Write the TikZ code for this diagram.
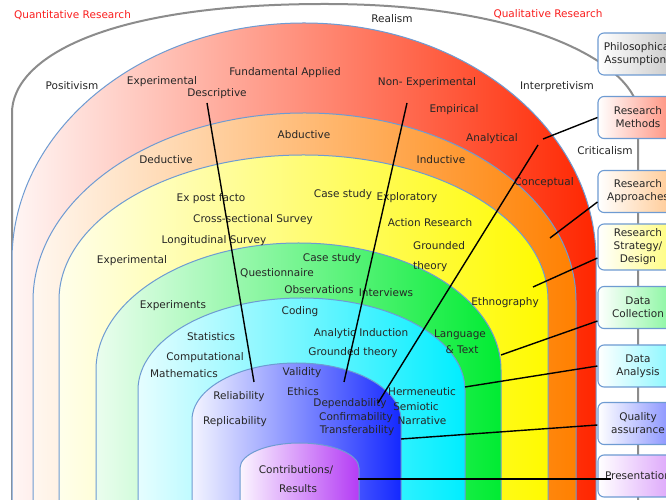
\documentclass[tikz,border=0pt]{standalone}
\usepackage{fontspec}
\setmainfont{DejaVu Sans}
\usetikzlibrary{positioning}

\definecolor{onionEdge}{RGB}{110,155,210}
\definecolor{titleRed}{RGB}{250,30,30}
\definecolor{redBand}{RGB}{255,38,0}
\definecolor{orangeBand}{RGB}{255,128,0}
\definecolor{yellowBand}{RGB}{255,250,0}
\definecolor{greenBand}{RGB}{0,236,50}
\definecolor{cyanBand}{RGB}{0,238,255}
\definecolor{blueBand}{RGB}{20,40,255}
\definecolor{purpleBand}{RGB}{180,60,245}

\tikzstyle{layer} = [draw=onionEdge, 
line width=1pt]
\tikzstyle{outer} = [draw=black!45, 
line width=2pt]
\tikzstyle{term} = [inner sep=0pt, 
text height=7.6pt, 
text depth=2pt,
font=\fontsize{10.5}{12}\selectfont, 
text=black!85]
\tikzstyle{title} = [inner sep=0pt, 
text height=7.6pt, 
text depth=2pt,
font=\fontsize{10.5}{12}\selectfont, 
text=titleRed]
\tikzstyle{stage} = [rectangle, rounded corners=6pt, 
minimum width=80pt, 
minimum height=42pt,
align=center, 
draw=onionEdge, line width=1.1pt,
font=\fontsize{10.5}{13}\selectfont, 
text=black!85]
\tikzstyle{link} = [line width=1.4pt, black]

\begin{document}
\begin{tikzpicture}[x=1pt, y=1pt, node distance=60pt]
\useasboundingbox (0,0) rectangle (666,500);
\clip (0,0) rectangle (666,500);
\fill [white] (0,0) rectangle (666,500);

% the onion
\draw [outer, fill=white] (12,-5) -- (12,387) .. controls (12,440) and (100,496) .. (325,496)
  .. controls (540,496) and (638,430) .. (638,387) -- (638,-5);
\path [layer, left color=redBand!4, middle color=redBand!38, right color=redBand]
  (12,-5) -- (12,240) arc[start angle=180, end angle=0, x radius=292, y radius=237] -- (596,-5) -- cycle;
\path [layer, left color=orangeBand!6, middle color=orangeBand!40, right color=orangeBand]
  (33,-5) -- (33,199) arc[start angle=180, end angle=0, x radius=271.5, y radius=188] -- (576,-5) -- cycle;
\path [layer, left color=yellowBand!8, middle color=yellowBand!45, right color=yellowBand]
  (59,-5) -- (59,200) arc[start angle=180, end angle=0, x radius=244.5, y radius=145] -- (548,-5) -- cycle;
\path [layer, left color=greenBand!8, middle color=greenBand!45, right color=greenBand]
  (96,-5) -- (96,130) arc[start angle=180, end angle=0, x radius=202.5, y radius=127] -- (501,-5) -- cycle;
\path [layer, left color=cyanBand!10, middle color=cyanBand!50, right color=cyanBand]
  (138,-5) -- (138,110) arc[start angle=180, end angle=0, x radius=163.5, y radius=92] -- (465,-5) -- cycle;
\path [layer, left color=blueBand!5, middle color=blueBand!40, right color=blueBand]
  (192,-5) -- (192,80) arc[start angle=180, end angle=0, x radius=104.5, y radius=57] -- (401,-5) -- cycle;
\path [layer, left color=purpleBand!5, middle color=purpleBand!40, right color=purpleBand]
  (240,-5) -- (240,32) arc[start angle=180, end angle=0, x radius=59.5, y radius=25] -- (359,-5) -- cycle;

% philosophy
\node (quantTitle) [title] at (72.5,484) {Quantitative Research};
\node (qualTitle) [title] at (548,485) {Qualitative Research};
\node (realism) [term] at (392,480) {Realism};
\node (positivism) [term] at (72,413) {Positivism};
\node (interpretivism) [term] at (557,413) {Interpretivism};
\node (criticalism) [term] at (605,348) {Criticalism};
% methods
\node (experimentalA) [term] at (162,418) {Experimental};
\node (descriptive) [term] at (217,406) {Descriptive};
\node (fundamental) [term] at (285,427) {Fundamental Applied};
\node (nonExp) [term] at (427,417) {Non- Experimental};
\node (empirical) [term] at (454,390) {Empirical};
\node (analytical) [term] at (492,361) {Analytical};
% approaches
\node (abductive) [term] at (304,364) {Abductive};
\node (deductive) [term] at (166,339) {Deductive};
\node (inductive) [term] at (441,339) {Inductive};
\node (conceptual) [term] at (544,317) {Conceptual};
% strategy
\node (expost) [term] at (211,301) {Ex post facto};
\node (crossSec) [term] at (253,280) {Cross-sectional Survey};
\node (longit) [term] at (214,259) {Longitudinal Survey};
\node (experimentalB) [term] at (132,239) {Experimental};
\node (caseA) [term] at (343,305) {Case study};
\node (exploratory) [term] at (407,302) {Exploratory};
\node (action) [term] at (430,276) {Action Research};
\node (groundedA) [term, anchor=west] at (413,253) {Grounded};
\node (theoryA) [term, anchor=west] at (413,233) {theory};
% collection
\node (caseB) [term] at (332,241) {Case study};
\node (questionnaire) [term] at (277,226) {Questionnaire};
\node (observations) [term] at (319,209) {Observations};
\node (interviews) [term] at (386,206) {Interviews};
\node (ethnography) [term] at (505,197) {Ethnography};
\node (experiments) [term] at (173,194) {Experiments};
% analysis
\node (coding) [term] at (300,188) {Coding};
\node (statistics) [term] at (211,162) {Statistics};
\node (analyticInd) [term] at (361,166) {Analytic Induction};
\node (groundedB) [term] at (353,147) {Grounded theory};
\node (language) [term] at (460,165) {Language};
\node (andText) [term] at (462,149) {\& Text};
\node (computational) [term] at (205,142) {Computational};
\node (mathematics) [term] at (184,125) {Mathematics};
\node (hermeneutic) [term] at (422,107) {Hermeneutic};
\node (semiotic) [term] at (416,92) {Semiotic};
\node (narrative) [term] at (422,78) {Narrative};
% quality
\node (validity) [term] at (302,127) {Validity};
\node (ethics) [term] at (303,107) {Ethics};
\node (reliability) [term] at (239,103) {Reliability};
\node (replicability) [term] at (235,78) {Replicability};
\node (dependability) [term] at (350,96) {Dependability};
\node (confirmability) [term] at (356,82) {Confirmability};
\node (transferability) [term] at (357,69) {Transferability};
% results
\node (contributions) [term] at (296,29) {Contributions/};
\node (results) [term] at (298,10) {Results};

% stages
\node (philo) [stage, left color=white, right color=black!22] at (638,446) {Philosophical\\Assumptions};
\node (methods) [stage, left color=white, right color=redBand!55, below of=philo, yshift=-3.5pt] {Research\\Methods};
\node (approaches) [stage, left color=white, right color=orangeBand!45, below of=methods, yshift=-14pt] {Research\\Approaches};
\node (strategy) [stage, left color=white, right color=yellowBand!55, below of=approaches, yshift=4.5pt, minimum height=46pt] {Research\\Strategy/\\Design};
\node (collection) [stage, left color=white, right color=greenBand!50, below of=strategy, yshift=-0.5pt] {Data\\Collection};
\node (analysis) [stage, left color=white, right color=cyanBand!50, below of=collection, yshift=1.5pt] {Data\\Analysis};
\node (quality) [stage, left color=white, right color=blueBand!55, below of=analysis, yshift=2.5pt] {Quality\\assurance};
\node (present) [stage, left color=white, right color=purpleBand!50, below of=quality, yshift=7.5pt] {Presentation};

% ends of the connectors in the bands
\coordinate (descTop) at (207,397);
\coordinate (reliEnd) at (254,118);
\coordinate (nonExpTop) at (407,397);
\coordinate (validEnd) at (344,118);
\coordinate (analytTop) at (538,355);
\coordinate (dependEnd) at (378,97);
\coordinate (methodsEnd) at (543,361);
\coordinate (approachEnd) at (550,262);
\coordinate (strategyEnd) at (533,213);
\coordinate (collectEnd) at (501,145);
\coordinate (analysisEnd) at (465,113);
\coordinate (qualityEnd) at (401,61);
\coordinate (contribEnd) at (358,21);

\draw [link] (descTop) -- (reliEnd);
\draw [link] (nonExpTop) -- (validEnd);
\draw [link] (analytTop) -- (dependEnd);
\draw [link] (methods.west) -- (methodsEnd);
\draw [link] ([yshift=-10.5pt]approaches.west) -- (approachEnd);
\draw [link] ([yshift=-11pt]strategy.west) -- (strategyEnd);
\draw [link] ([yshift=-13.5pt]collection.west) -- (collectEnd);
\draw [link] (analysis.west) -- (analysisEnd);
\draw [link] ([yshift=-1.5pt]quality.west) -- (qualityEnd);
\draw [link] (contribEnd) -- ([xshift=14pt]contribEnd -| present.west);
\end{tikzpicture}
\end{document}
